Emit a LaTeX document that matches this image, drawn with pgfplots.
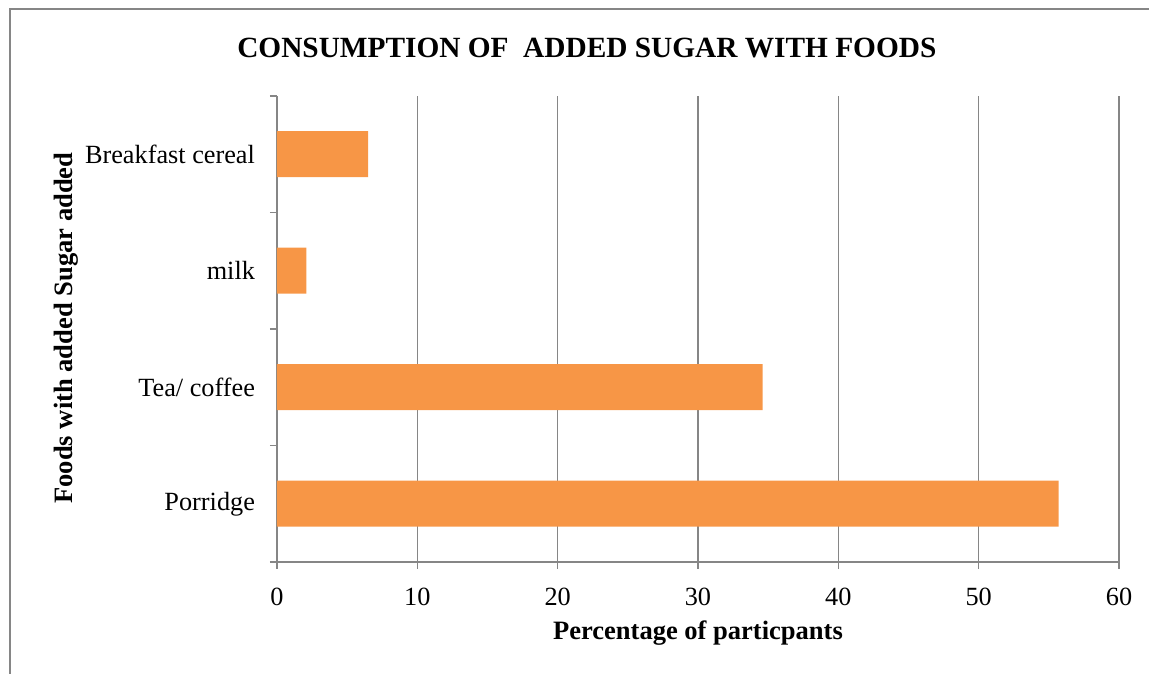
\documentclass[border=0pt]{standalone}
\usepackage{pgfplots}
\pgfplotsset{compat=1.18}
\usepackage{fontspec}
\setmainfont{Liberation Serif}
\definecolor{barorange}{HTML}{F79646}
\definecolor{axgray}{HTML}{868686}
\begin{document}
\begin{tikzpicture}
\useasboundingbox (-207.75pt,-84pt) rectangle (654pt,421.5pt);
\draw[axgray, line width=1.2pt] (-200.25pt,-84pt) -- (-200.25pt,414.75pt) -- (654pt,414.75pt);
\begin{axis}[
  at={(0,0)}, anchor=south west,
  scale only axis,
  width=631.5pt, height=349.5pt,
  xbar, bar width=34.5pt, bar shift=0pt,
  xmin=0, xmax=60,
  ymin=-0.5, ymax=3.5,
  xtick={0,10,20,30,40,50,60},
  ytick={-0.5,0.5,1.5,2.5,3.5},
  yticklabels={},
  extra y ticks={0,1,2,3},
  extra y tick labels={Porridge,Tea/ coffee,milk,Breakfast cereal},
  extra y tick style={major tick length=0pt, tick style={draw=none}, yticklabel style={xshift=-13pt}},
  axis x line*=bottom, axis y line*=left,
  axis line style={axgray, line width=1.2pt, -},
  x axis line style={-}, y axis line style={-},
  tick style={axgray, line width=1.2pt},
  major tick length=5.25pt,
  tick align=outside,
  xmajorgrids,
  grid style={axgray, line width=1.2pt},
  /pgf/number format/assume math mode=true,
  tick label style={font=\fontsize{19.7}{22}\selectfont, text=black},
  xticklabel style={yshift=-11pt},
  title={\textbf{CONSUMPTION OF\ \ ADDED SUGAR WITH FOODS}},
  title style={font=\fontsize{22}{26}\selectfont, at={(axis description cs:0.368,1.086)}, anchor=center},
  xlabel={\textbf{Percentage of particpants}},
  xlabel style={font=\fontsize{19.9}{23}\selectfont, at={(axis description cs:0.5,-0.152)}, anchor=center},
  ylabel={\textbf{Foods with added Sugar added}},
  ylabel style={font=\fontsize{19.9}{23}\selectfont, at={(axis description cs:-0.25,0.502)}, anchor=center, rotate=0},
]
\addplot[fill=barorange, draw=none] coordinates {(55.7,0) (34.6,1) (2.1,2) (6.5,3)};
\end{axis}
\end{tikzpicture}
\end{document}
